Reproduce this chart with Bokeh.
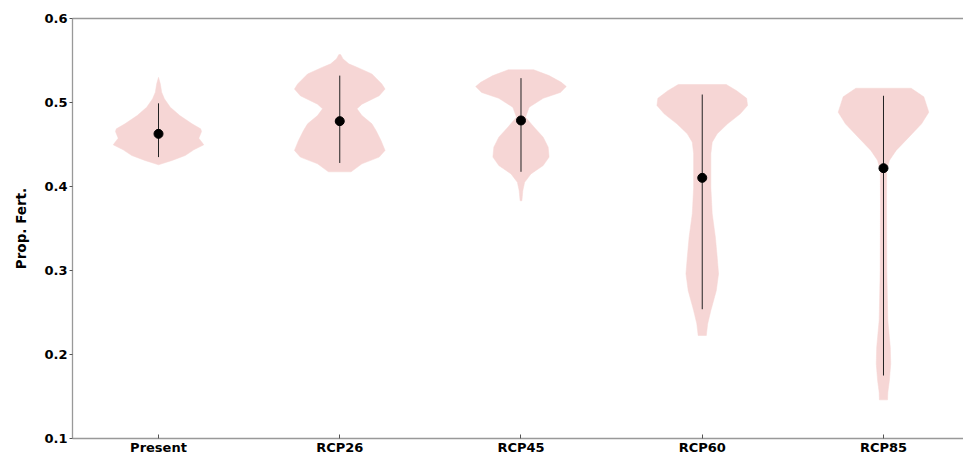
from bokeh.plotting import figure
from bokeh.models import Range1d, FixedTicker, LinearAxis
from bokeh.embed import file_html
from bokeh.resources import INLINE

categories = ["Present", "RCP26", "RCP45", "RCP60", "RCP85"]
positions = [1, 2, 3, 4, 5]

# violin profiles: value levels (top -> bottom) and relative density (max = 1)
present_y = [0.530, 0.5222, 0.5123, 0.5044, 0.4944, 0.4845, 0.4746, 0.4687, 0.4655, 0.4575, 0.4496, 0.4437, 0.4369, 0.431, 0.4258]
present_d = [0.0, 0.04, 0.07, 0.13, 0.26, 0.47, 0.74, 0.93, 0.95, 0.89, 1.0, 0.78, 0.59, 0.30, 0.0]

rcp26_y = [0.557, 0.552, 0.546, 0.542, 0.534, 0.522, 0.516, 0.508, 0.498, 0.4925, 0.4845, 0.4746, 0.4667, 0.4548, 0.443, 0.435, 0.427, 0.4175]
rcp26_d = [0.02, 0.07, 0.20, 0.38, 0.71, 0.93, 1.0, 0.87, 0.49, 0.38, 0.49, 0.71, 0.80, 0.91, 1.0, 0.87, 0.49, 0.25]

rcp45_y = [0.539, 0.532, 0.524, 0.519, 0.512, 0.505, 0.4944, 0.4825, 0.4706, 0.4587, 0.4468, 0.435, 0.425, 0.415, 0.405, 0.395, 0.383]
rcp45_d = [0.28, 0.62, 0.89, 1.0, 0.87, 0.49, 0.18, 0.10, 0.29, 0.49, 0.60, 0.62, 0.49, 0.22, 0.08, 0.04, 0.02]

rcp60_y = [0.5214, 0.514, 0.505, 0.4964, 0.4865, 0.4746, 0.4627, 0.4528, 0.439, 0.399, 0.3675, 0.3397, 0.3159, 0.296, 0.276, 0.2524, 0.2365, 0.2226]
rcp60_d = [0.53, 0.76, 0.98, 1.0, 0.84, 0.56, 0.33, 0.22, 0.19, 0.19, 0.22, 0.29, 0.33, 0.36, 0.31, 0.19, 0.12, 0.09]

rcp85_y = [0.517, 0.5068, 0.4885, 0.4746, 0.4587, 0.443, 0.431, 0.419, 0.3794, 0.30, 0.2405, 0.2087, 0.189, 0.169, 0.155, 0.146]
rcp85_d = [0.61, 0.89, 1.0, 0.84, 0.56, 0.28, 0.13, 0.07, 0.067, 0.073, 0.096, 0.15, 0.16, 0.13, 0.096, 0.09]

medians = [0.4627, 0.4778, 0.4786, 0.4103, 0.4218]
whisker_low = [0.435, 0.428, 0.4175, 0.2539, 0.175]
whisker_high = [0.499, 0.532, 0.529, 0.5095, 0.508]

y_ticks = [0.1, 0.2, 0.3, 0.4, 0.5, 0.6]

profiles = [(present_y, present_d), (rcp26_y, rcp26_d), (rcp45_y, rcp45_d),
            (rcp60_y, rcp60_d), (rcp85_y, rcp85_d)]

HALF_WIDTH = 0.25
FONT = "DejaVu Sans"
SPINE = "#999999"

p = figure(frame_width=891, frame_height=420,
           x_range=Range1d(0.5255, 5.4414), y_range=Range1d(0.1, 0.6),
           output_backend="svg", toolbar_location=None,
           min_border_left=72, min_border_right=0, min_border_top=18, min_border_bottom=16)
p.outline_line_color = None
p.xgrid.visible = False
p.ygrid.visible = False
p.background_fill_color = "white"
p.border_fill_color = "white"

xs, ys = [], []
for pos, (vy, vd) in zip(positions, profiles):
    right = [pos + HALF_WIDTH * d for d in vd]
    left = [pos - HALF_WIDTH * d for d in reversed(vd)]
    xs.append(right + left)
    ys.append(list(vy) + list(reversed(vy)))
p.patches(xs, ys, fill_color="#f6d6d5", line_color="#f6d6d5", line_width=0.5)

p.segment(x0=positions, y0=whisker_low, x1=positions, y1=whisker_high,
          line_color="#222222", line_width=1)
p.scatter(positions, medians, size=9, color="black")

# x axis
p.xaxis.ticker = FixedTicker(ticks=positions)
p.xaxis.major_label_overrides = {pos: c for pos, c in zip(positions, categories)}
p.xaxis.major_tick_in = 4
p.xaxis.major_tick_out = 0
p.xaxis.minor_tick_in = 0
p.xaxis.minor_tick_out = 0
p.xaxis.major_label_standoff = 1
p.xaxis.axis_line_color = SPINE
p.xaxis.axis_line_width = 1.3
p.xaxis.major_tick_line_color = "#555555"

# y axis
p.yaxis.ticker = FixedTicker(ticks=y_ticks)
p.yaxis.major_tick_in = 0
p.yaxis.major_tick_out = 3
p.yaxis.minor_tick_in = 0
p.yaxis.minor_tick_out = 0
p.yaxis.major_label_standoff = 2
p.yaxis.axis_label = "Prop. Fert."
p.yaxis.axis_label_standoff = 12
p.yaxis.axis_line_color = SPINE
p.yaxis.axis_line_width = 1.3
p.yaxis.major_tick_line_color = "#555555"

for ax in (p.xaxis, p.yaxis):
    ax.major_label_text_font = FONT
    ax.major_label_text_font_style = "bold"
    ax.major_label_text_font_size = "13px"
    ax.major_label_text_color = "black"
    ax.axis_label_text_font = FONT
    ax.axis_label_text_font_style = "bold"
    ax.axis_label_text_color = "black"
p.yaxis.axis_label_text_font_size = "13.5px"

# top spine
top = LinearAxis(ticker=FixedTicker(ticks=[]), major_tick_in=0, major_tick_out=0,
                 minor_tick_in=0, minor_tick_out=0, major_label_text_font_size="0px",
                 axis_line_color=SPINE, axis_line_width=1.3)
p.add_layout(top, "above")

open("out.html", "w").write(file_html(p, INLINE))
